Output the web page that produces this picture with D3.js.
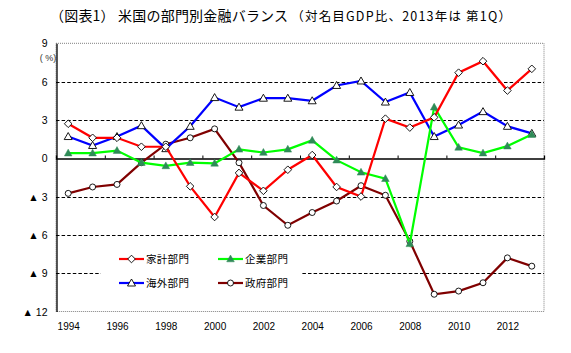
<!DOCTYPE html>
<html><head><meta charset="utf-8">
<script src="https://cdn.jsdelivr.net/npm/d3@7"></script>
<style>
body{margin:0;background:#fff;}
text{font-family:"Liberation Sans","Noto Sans CJK JP",sans-serif;}
.jp{font-family:"Noto Sans CJK JP",sans-serif;}
</style></head>
<body>
<svg id="c" width="571" height="353"></svg>
<script>
const years = d3.range(1994, 2014);
const household = [2.7,1.6,1.6,0.9,0.9,-2.2,-4.6,-1.15,-2.55,-0.9,0.25,-2.25,-3.0,3.1,2.4,3.2,6.7,7.6,5.3,7.0];
const corporate = [0.4,0.4,0.6,-0.35,-0.6,-0.35,-0.4,0.7,0.45,0.7,1.4,-0.15,-1.1,-1.6,-6.7,4.0,0.85,0.4,0.95,1.85];
const foreign = [1.7,1.0,1.7,2.55,0.75,2.5,4.75,4.0,4.7,4.7,4.5,5.7,6.05,4.4,5.15,1.7,2.6,3.65,2.5,1.95];
const government = [-2.75,-2.25,-2.05,-0.35,1.1,1.6,2.3,-0.35,-3.7,-5.25,-4.25,-3.35,-2.15,-2.9,-6.5,-10.65,-10.4,-9.75,-7.8,-8.45];
const seriesNames = ["家計部門","企業部門","海外部門","政府部門"];
const yTicks = [9,6,3,0,-3,-6,-9,-12];
const gridTicks = [6,3,-3,-6,-9];
const xLabels = [1994,1996,1998,2000,2002,2004,2006,2008,2010,2012];

const svg = d3.select("#c");
const L=56, R=544, T=43.3, B=311.5;
const x = d3.scaleLinear().domain([1993.5, 2013.5]).range([L, R]);
const y = d3.scaleLinear().domain([-12, 9]).range([B, T]);

// title
const title = svg.append("text").attr("class","jp").attr("x",50).attr("y",21).attr("fill","#000");
title.append("tspan").attr("font-size","14px").attr("letter-spacing","0.2px").text("（図表1） 米国の部門別金融バランス");
title.append("tspan").attr("font-size","12.5px").attr("letter-spacing","1.2px").attr("dx",3).text("（対名目GDP比、2013年は 第1Q）");

// plot border (dotted gray)
svg.append("rect").attr("x",L).attr("y",T).attr("width",R-L).attr("height",B-T)
  .attr("fill","none").attr("stroke","#808080").attr("stroke-width",1).attr("stroke-dasharray","1,1");

// gridlines
svg.append("g").selectAll("line").data(gridTicks).join("line")
  .attr("x1",L).attr("x2",R).attr("y1",d=>Math.round(y(d))+0.5).attr("y2",d=>Math.round(y(d))+0.5)
  .attr("stroke","#000").attr("stroke-width",1).attr("stroke-dasharray","3.5,2.1");

// y axis
const yAxis = d3.axisLeft(y).tickValues(yTicks).tickSize(0).tickPadding(9)
  .tickFormat(d => d < 0 ? "▲ " + (-d) : String(d));
const gy = svg.append("g").attr("transform",`translate(${L+0.5},0)`).call(yAxis);
gy.select(".domain").attr("stroke","#000").attr("stroke-width",1.3);
gy.selectAll("text").attr("font-size","10.5px").attr("fill","#000").attr("dy","0.35em");

svg.append("text").attr("x",48).attr("y",61).attr("text-anchor","middle")
  .attr("font-size","9px").attr("fill","#333").text("( %)");

// zero axis with ticks
const zeroAxis = d3.axisBottom(x).tickValues(d3.range(1995.5, 2012, 2)).tickSize(-3).tickFormat("");
const gz = svg.append("g").attr("transform",`translate(0,${Math.round(y(0))+0.5})`).call(zeroAxis);
gz.select(".domain").attr("stroke","#000").attr("stroke-width",1.3);
gz.selectAll(".tick line").attr("stroke","#000");

// x labels
const xAxis = d3.axisBottom(x).tickValues(xLabels).tickSize(0).tickPadding(0).tickFormat(d3.format("d"));
const gx = svg.append("g").attr("transform",`translate(0,${B+11})`).call(xAxis);
gx.select(".domain").remove();
gx.selectAll("text").attr("font-size","10px").attr("fill","#000");

// legend background
svg.append("rect").attr("x",101).attr("y",246).attr("width",201).attr("height",50).attr("fill","#fff");

const colors = ["#FF0000","#00FF00","#0000FF","#800000"];
const data = [household, corporate, foreign, government];
const line = d3.line().x((d,i)=>x(years[i])).y(d=>y(d));

function marker(g, type, cx, cy){
  if(type===0){ // diamond
    g.append("path").attr("d",`M${cx},${cy-3.8}L${cx+3.8},${cy}L${cx},${cy+3.8}L${cx-3.8},${cy}Z`)
      .attr("fill","#fff").attr("stroke","#000").attr("stroke-width",0.9);
  } else if(type===1){ // filled triangle
    g.append("path").attr("d",`M${cx},${cy-4}L${cx+3.8},${cy+2.8}L${cx-3.8},${cy+2.8}Z`)
      .attr("fill","#2E8B57").attr("stroke","#2E8B57").attr("stroke-width",0.5);
  } else if(type===2){ // hollow triangle
    g.append("path").attr("d",`M${cx},${cy-4}L${cx+4},${cy+3}L${cx-4},${cy+3}Z`)
      .attr("fill","#fff").attr("stroke","#000").attr("stroke-width",0.9);
  } else { // circle
    g.append("circle").attr("cx",cx).attr("cy",cy).attr("r",3)
      .attr("fill","#fff").attr("stroke","#000").attr("stroke-width",0.9);
  }
}

const order = [3,2,1,0];
order.forEach(k=>{
  const g = svg.append("g");
  g.append("path").datum(data[k]).attr("d",line).attr("fill","none")
    .attr("stroke",colors[k]).attr("stroke-width",2.2).attr("stroke-linejoin","miter");
  data[k].forEach((v,i)=>marker(g,k,x(years[i]),y(v)));
});

// legend
const legPos = [[119,259],[218,259],[119,283],[218,283]];
seriesNames.forEach((name,k)=>{
  const [lx,ly] = legPos[k];
  const g = svg.append("g");
  g.append("line").attr("x1",lx).attr("x2",lx+25).attr("y1",ly).attr("y2",ly)
    .attr("stroke",colors[k]).attr("stroke-width",2.2);
  marker(g,k,lx+12.5,ly);
  g.append("text").attr("class","jp").attr("x",lx+27).attr("y",ly).attr("dy","0.36em")
    .attr("font-size","10.5px").attr("letter-spacing","0.3px").attr("fill","#000").text(name);
});
</script>
</body></html>
